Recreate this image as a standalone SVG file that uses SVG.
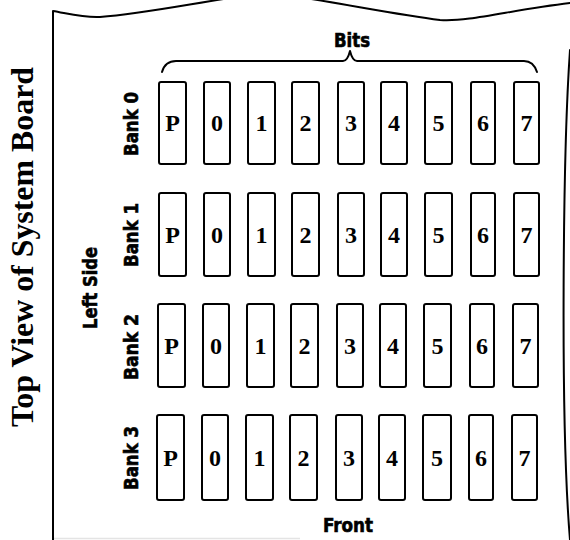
<svg xmlns="http://www.w3.org/2000/svg" width="570" height="540" viewBox="0 0 570 540">
<style>
.edge{fill:none;stroke:#000;stroke-width:2;stroke-linecap:round;stroke-linejoin:round}
.chip{fill:#fff;stroke:#000;stroke-width:2}
.dig{font-family:"Liberation Serif",serif;font-weight:bold;font-size:24px;text-anchor:middle;fill:#000}
.lab{font-family:"DejaVu Sans Condensed","DejaVu Sans",sans-serif;font-weight:bold;font-size:19px;text-anchor:middle;fill:#000;stroke:#000;stroke-width:0.6}
.title{font-family:"Liberation Serif",serif;font-weight:bold;font-size:32px;text-anchor:middle;fill:#000}
</style>
<rect width="570" height="540" fill="#fff"/>
<g id="board">
<path class="edge" d="M53,540 L53,11 C70,14 85,18 100,17 C140,14 190,4 230,-2 M305,-2 C350,5 400,15 440,20 C470,22 510,10 570,3"/>
<path class="edge" d="M570,50 C563,150 560,420 570,540" stroke-width="1.6"/>
<line x1="54" y1="538.5" x2="300" y2="538.5" stroke="#e4e4e4" stroke-width="1.5"/>
</g>
<g id="labels">
<text class="title" transform="translate(33,247) rotate(-90)" textLength="360" lengthAdjust="spacingAndGlyphs">Top View of System Board</text>
<text class="lab" transform="translate(97,288) rotate(-90)" textLength="82" lengthAdjust="spacingAndGlyphs">Left Side</text>
<text class="lab" x="352" y="47" font-size="22" textLength="36" lengthAdjust="spacingAndGlyphs">Bits</text>
<text class="lab" x="348" y="532" font-size="22" textLength="50" lengthAdjust="spacingAndGlyphs">Front</text>
</g>
<g id="connectors">
<path class="edge" d="M162,72 C164,65 168,61 176,61 L343,61 C347,61 349,55 350,51 C351,55 353,61 357,61 L524,61 C531,61 535,66 537,72"/>
</g>
<g id="bank0">
<text class="lab" transform="translate(138,124) rotate(-90)" textLength="64" lengthAdjust="spacingAndGlyphs">Bank 0</text>
<g id="b0-P"><rect class="chip" x="159" y="82" width="27" height="82" rx="2"/><text class="dig" x="172.5" y="131">P</text></g>
<g id="b0-0"><rect class="chip" x="204" y="82" width="26" height="82" rx="2"/><text class="dig" x="217" y="131">0</text></g>
<g id="b0-1"><rect class="chip" x="248" y="82" width="27" height="82" rx="2"/><text class="dig" x="261.5" y="131">1</text></g>
<g id="b0-2"><rect class="chip" x="292" y="82" width="27" height="82" rx="2"/><text class="dig" x="305.5" y="131">2</text></g>
<g id="b0-3"><rect class="chip" x="338" y="82" width="26" height="82" rx="2"/><text class="dig" x="351" y="131">3</text></g>
<g id="b0-4"><rect class="chip" x="381" y="82" width="26" height="82" rx="2"/><text class="dig" x="394" y="131">4</text></g>
<g id="b0-5"><rect class="chip" x="425" y="82" width="27" height="82" rx="2"/><text class="dig" x="438.5" y="131">5</text></g>
<g id="b0-6"><rect class="chip" x="471" y="82" width="24" height="82" rx="2"/><text class="dig" x="483" y="131">6</text></g>
<g id="b0-7"><rect class="chip" x="514" y="82" width="25" height="82" rx="2"/><text class="dig" x="526.5" y="131">7</text></g>
</g>
<g id="bank1">
<text class="lab" transform="translate(138,235) rotate(-90)" textLength="64" lengthAdjust="spacingAndGlyphs">Bank 1</text>
<g id="b1-P"><rect class="chip" x="159" y="193" width="27" height="83" rx="2"/><text class="dig" x="172.5" y="243">P</text></g>
<g id="b1-0"><rect class="chip" x="204" y="193" width="26" height="83" rx="2"/><text class="dig" x="217" y="243">0</text></g>
<g id="b1-1"><rect class="chip" x="248" y="193" width="27" height="83" rx="2"/><text class="dig" x="261.5" y="243">1</text></g>
<g id="b1-2"><rect class="chip" x="292" y="193" width="27" height="83" rx="2"/><text class="dig" x="305.5" y="243">2</text></g>
<g id="b1-3"><rect class="chip" x="338" y="193" width="26" height="83" rx="2"/><text class="dig" x="351" y="243">3</text></g>
<g id="b1-4"><rect class="chip" x="381" y="193" width="26" height="83" rx="2"/><text class="dig" x="394" y="243">4</text></g>
<g id="b1-5"><rect class="chip" x="425" y="193" width="27" height="83" rx="2"/><text class="dig" x="438.5" y="243">5</text></g>
<g id="b1-6"><rect class="chip" x="471" y="193" width="24" height="83" rx="2"/><text class="dig" x="483" y="243">6</text></g>
<g id="b1-7"><rect class="chip" x="514" y="193" width="25" height="83" rx="2"/><text class="dig" x="526.5" y="243">7</text></g>
</g>
<g id="bank2">
<text class="lab" transform="translate(138,347) rotate(-90)" textLength="66" lengthAdjust="spacingAndGlyphs">Bank 2</text>
<g id="b2-P"><rect class="chip" x="158" y="304" width="27" height="83" rx="2"/><text class="dig" x="171.5" y="354">P</text></g>
<g id="b2-0"><rect class="chip" x="203" y="304" width="26" height="83" rx="2"/><text class="dig" x="216" y="354">0</text></g>
<g id="b2-1"><rect class="chip" x="247" y="304" width="27" height="83" rx="2"/><text class="dig" x="260.5" y="354">1</text></g>
<g id="b2-2"><rect class="chip" x="291" y="304" width="27" height="83" rx="2"/><text class="dig" x="304.5" y="354">2</text></g>
<g id="b2-3"><rect class="chip" x="337" y="304" width="26" height="83" rx="2"/><text class="dig" x="350" y="354">3</text></g>
<g id="b2-4"><rect class="chip" x="380" y="304" width="26" height="83" rx="2"/><text class="dig" x="393" y="354">4</text></g>
<g id="b2-5"><rect class="chip" x="424" y="304" width="27" height="83" rx="2"/><text class="dig" x="437.5" y="354">5</text></g>
<g id="b2-6"><rect class="chip" x="470" y="304" width="24" height="83" rx="2"/><text class="dig" x="482" y="354">6</text></g>
<g id="b2-7"><rect class="chip" x="513" y="304" width="25" height="83" rx="2"/><text class="dig" x="525.5" y="354">7</text></g>
</g>
<g id="bank3">
<text class="lab" transform="translate(138,458) rotate(-90)" textLength="64" lengthAdjust="spacingAndGlyphs">Bank 3</text>
<g id="b3-P"><rect class="chip" x="157" y="415" width="27" height="85" rx="2"/><text class="dig" x="170.5" y="466">P</text></g>
<g id="b3-0"><rect class="chip" x="202" y="415" width="26" height="85" rx="2"/><text class="dig" x="215" y="466">0</text></g>
<g id="b3-1"><rect class="chip" x="246" y="415" width="27" height="85" rx="2"/><text class="dig" x="259.5" y="466">1</text></g>
<g id="b3-2"><rect class="chip" x="290" y="415" width="27" height="85" rx="2"/><text class="dig" x="303.5" y="466">2</text></g>
<g id="b3-3"><rect class="chip" x="336" y="415" width="26" height="85" rx="2"/><text class="dig" x="349" y="466">3</text></g>
<g id="b3-4"><rect class="chip" x="379" y="415" width="26" height="85" rx="2"/><text class="dig" x="392" y="466">4</text></g>
<g id="b3-5"><rect class="chip" x="423" y="415" width="28" height="85" rx="2"/><text class="dig" x="437" y="466">5</text></g>
<g id="b3-6"><rect class="chip" x="469" y="415" width="24" height="85" rx="2"/><text class="dig" x="481" y="466">6</text></g>
<g id="b3-7"><rect class="chip" x="512" y="415" width="25" height="85" rx="2"/><text class="dig" x="524.5" y="466">7</text></g>
</g>
</svg>
